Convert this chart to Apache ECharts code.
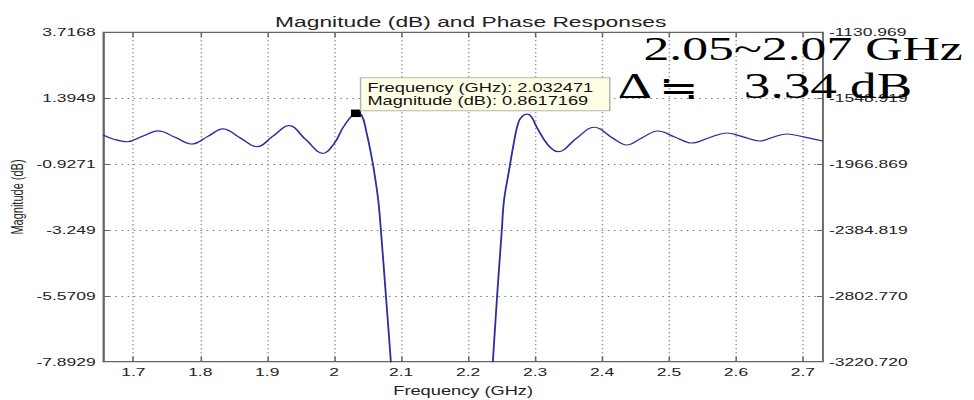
<!DOCTYPE html>
<html>
<head>
<meta charset="utf-8">
<script src="https://cdn.jsdelivr.net/npm/echarts@6/dist/echarts.min.js"></script>
<style>
  html, body { margin: 0; padding: 0; background: #fff; overflow: hidden; }
  #wrap { width: 974px; height: 400px; overflow: hidden; }
  /* the plot is laid out narrow and widened horizontally */
  #chart { width: 641px; height: 400px; transform: scaleX(1.5195); transform-origin: 0 0; }
</style>
</head>
<body>
<div id="wrap"><div id="chart"></div></div>
<script>
// Filter magnitude response (dB) against frequency (GHz)
const freqGHz = [
  1.6548, 1.6720, 1.6906, 1.7137, 1.7369, 1.7622, 1.7876, 1.8107, 1.8339, 1.8592,
  1.8846, 1.9085, 1.9324, 1.9577, 1.9831, 2.0000, 2.0124, 2.0249, 2.032471, 2.0409,
  2.0484, 2.0558, 2.0593, 2.0657, 2.0697, 2.0772, 2.0846, 2.0950, 2.1200, 2.1600,
  2.2000, 2.2250, 2.2369, 2.2433, 2.2503, 2.2537, 2.2612, 2.2672, 2.2746, 2.2810,
  2.2887, 2.2950, 2.3021, 2.3194, 2.3343, 2.3618, 2.3881, 2.4164, 2.4369, 2.4600,
  2.4831, 2.5085, 2.5339, 2.5600, 2.5861, 2.6107, 2.6353, 2.6555, 2.6756, 2.7025,
  2.7294
];
const magnitudeDb = [
  0.10, -0.06, -0.14, 0.05, 0.24, 0.02, -0.22, 0.04, 0.31, 0.00,
  -0.315, 0.06, 0.425, -0.07, -0.55, -0.20, 0.33, 0.74, 0.8617169, 0.80,
  0.17, -0.67, -1.14, -2.19, -3.25, -5.57, -7.89, -11.5, -19.0, -28.0,
  -22.0, -12.0, -7.89, -5.57, -3.25, -2.19, -1.14, -0.32, 0.51, 0.76,
  0.83, 0.72, 0.39, -0.26, -0.49, -0.02, 0.37, -0.02, -0.255, 0.00,
  0.238, 0.03, -0.185, 0.00, 0.168, 0.03, -0.114, 0.02, 0.132, 0.02,
  -0.114
];

// Axis ticks
const freqTicks = [1.7, 1.8, 1.9, 2.0, 2.1, 2.2, 2.3, 2.4, 2.5, 2.6, 2.7];
const freqTickLabels = ['1.7', '1.8', '1.9', '2', '2.1', '2.2', '2.3', '2.4', '2.5', '2.6', '2.7'];
const magTicks = [-7.8929, -5.5709, -3.249, -0.9271, 1.3949, 3.7168];
const magTickLabels = ['-7.8929', '-5.5709', '-3.249', '-0.9271', '1.3949', '3.7168'];
const phaseTicks = [-3220.7202, -2802.770, -2384.8199, -1966.8698, -1548.9197, -1130.969];
const phaseTickLabels = ['-3220.720', '-2802.770', '-2384.819', '-1966.869', '-1548.919', '-1130.969'];

// Data tip on the pass-band edge peak
const tipFreq = 2.032471;
const tipMag = 0.8617169;

// Band annotation
const bandText = '2.05~2.07 GHz';
const deltaSymbol = 'Δ';
const approxSymbol = '≒';
const deltaText = '3.34 dB';

const FREQ_MIN = 1.6552, FREQ_MAX = 2.7299;

function lookup(ticks, labels) {
  return function (v) {
    for (let i = 0; i < ticks.length; i++) {
      if (Math.abs(v - ticks[i]) < 1e-6 * Math.max(1, Math.abs(ticks[i]))) return labels[i];
    }
    return '';
  };
}

const sans = '"Liberation Sans", Arial, Helvetica, sans-serif';
const serif = '"Liberation Serif", "Times New Roman", "Noto Sans CJK JP", serif';
const frameColor = '#666';
const textColor = '#222';
const gridDots = { color: '#7a7a7a', width: 1, type: [1, 3] };

const chart = echarts.init(document.getElementById('chart'), null, { renderer: 'svg' });

chart.setOption({
  animation: false,
  backgroundColor: '#fff',
  title: {
    text: 'Magnitude (dB) and Phase Responses',
    left: 304.8,
    top: 9,
    textAlign: 'center',
    textStyle: { fontFamily: sans, fontSize: 15, fontWeight: 'normal', color: textColor }
  },
  grid: {
    left: 68, right: 99.4, top: 32.3, bottom: 38.3,
    outerBoundsMode: 'none',
    containLabel: false,
    show: true, borderColor: frameColor, borderWidth: 1, backgroundColor: '#fff'
  },
  xAxis: [
    {
      type: 'value', position: 'bottom', min: FREQ_MIN, max: FREQ_MAX,
      name: 'Frequency (GHz)', nameLocation: 'middle', nameGap: 23,
      nameMoveOverlap: false,
      nameTextStyle: { fontFamily: sans, fontSize: 12, color: textColor },
      axisLine: { show: true, onZero: false, lineStyle: { color: frameColor } },
      axisTick: { show: true, inside: true, length: 5, customValues: freqTicks, lineStyle: { color: frameColor } },
      axisLabel: {
        show: true, customValues: freqTicks, margin: 4,
        fontFamily: sans, fontSize: 11.5, color: textColor,
        formatter: lookup(freqTicks, freqTickLabels)
      },
      splitLine: { show: true, lineStyle: gridDots }
    },
    {
      type: 'value', position: 'top', min: FREQ_MIN, max: FREQ_MAX,
      axisLine: { show: true, onZero: false, lineStyle: { color: frameColor } },
      axisTick: { show: true, inside: true, length: 5, customValues: freqTicks, lineStyle: { color: frameColor } },
      axisLabel: { show: false },
      splitLine: { show: false }
    }
  ],
  yAxis: [
    {
      type: 'value', position: 'left', min: -7.8929, max: 3.7168,
      name: 'Magnitude (dB)', nameLocation: 'middle', nameGap: 51,
      nameMoveOverlap: false,
      nameTextStyle: { fontFamily: sans, fontSize: 11, color: textColor },
      axisLine: { show: true, onZero: false, lineStyle: { color: frameColor } },
      axisTick: { show: true, inside: true, length: 4, customValues: magTicks, lineStyle: { color: frameColor } },
      axisLabel: {
        show: true, customValues: magTicks, margin: 5,
        fontFamily: sans, fontSize: 11.5, color: textColor,
        formatter: lookup(magTicks, magTickLabels)
      },
      splitLine: { show: true, lineStyle: gridDots }
    },
    {
      type: 'value', position: 'right', min: -3220.7202, max: -1130.969,
      axisLine: { show: true, onZero: false, lineStyle: { color: frameColor } },
      axisTick: { show: true, inside: true, length: 4, customValues: phaseTicks, lineStyle: { color: frameColor } },
      axisLabel: {
        show: true, customValues: phaseTicks, margin: 4,
        fontFamily: sans, fontSize: 11.5, color: textColor,
        formatter: lookup(phaseTicks, phaseTickLabels)
      },
      splitLine: { show: false }
    }
  ],
  series: [
    {
      name: 'Magnitude',
      type: 'line',
      xAxisIndex: 0,
      yAxisIndex: 0,
      data: freqGHz.map((f, i) => [f, magnitudeDb[i]]),
      showSymbol: false,
      smooth: 0.4,
      clip: true,
      lineStyle: { color: '#2e2e9e', width: 1.2 },
      z: 3,
      markPoint: {
        symbol: 'rect',
        symbolSize: [6.5, 7.5],
        itemStyle: { color: '#000' },
        data: [{ coord: [tipFreq, tipMag] }],
        label: {
          show: true,
          position: [6.8, -31.3],
          align: 'left',
          verticalAlign: 'top',
          fontFamily: sans,
          fontSize: 12,
          lineHeight: 13,
          color: '#111',
          backgroundColor: '#ffffe6',
          borderColor: '#b4b4b4',
          borderWidth: 1,
          padding: [3, 4, 3, 4],
          width: 155,
          formatter: () => 'Frequency (GHz): ' + tipFreq + '\nMagnitude (dB): ' + tipMag
        },
        z: 5
      }
    }
  ],
  graphic: [
    {
      type: 'text', left: 423.5, top: 31, z: 100,
      style: { text: bandText, font: '34px ' + serif, fill: '#000' }
    },
    {
      type: 'text', left: 406.5, top: 69, z: 100,
      style: { text: deltaSymbol, font: '35px ' + serif, fill: '#000' }
    },
    {
      type: 'text', left: 433.5, top: 70, z: 100,
      style: { text: approxSymbol, font: '31px "Noto Sans CJK JP", ' + serif, fill: '#000' }
    },
    {
      type: 'text', left: 489.5, top: 69, z: 100,
      style: { text: deltaText, font: '35px ' + serif, fill: '#000' }
    }
  ]
});
</script>
</body>
</html>
